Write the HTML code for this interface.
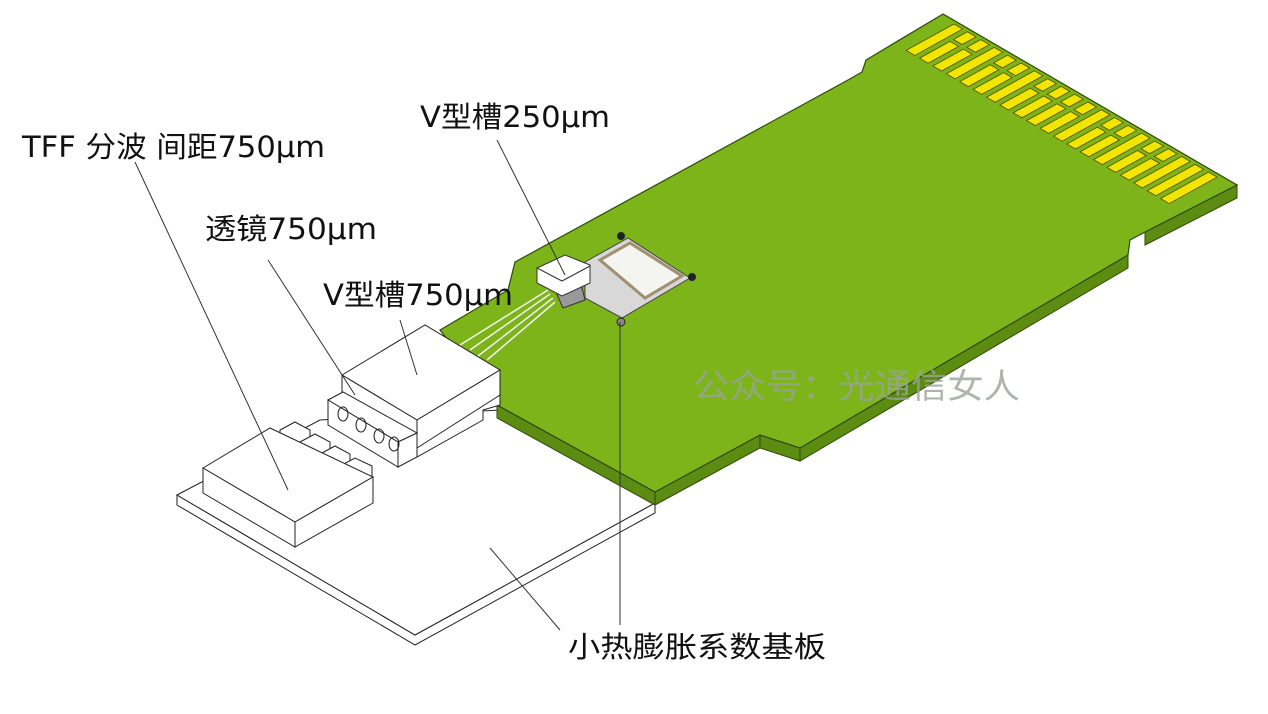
<!DOCTYPE html>
<html><head><meta charset="utf-8"><style>
html,body{margin:0;padding:0;background:#fff;width:1268px;height:714px;overflow:hidden}
svg{display:block}
text{font-family:"DejaVu Sans","Noto Sans CJK SC",sans-serif;fill:#111}
</style></head><body>
<svg width="1268" height="714" viewBox="0 0 1268 714" xmlns="http://www.w3.org/2000/svg">
<polygon points="177,495 415,635 655,503 655,513 415,645 177,505" fill="#fff" stroke="#222" stroke-width="1"/>
<polygon points="177,495 320,420 500,410 655,497 655,503 415,635" fill="#fff" stroke="#222" stroke-width="1"/>
<g fill="#5c8c12" stroke="#2d4a06" stroke-width="1">
<polygon points="497,405 655,492 655,505 497,418"/>
<polygon points="655,492 760,435 760,448 655,505"/>
<polygon points="800,448 1128,255 1128,268 800,461"/>
<polygon points="1145,232 1237,185 1237,198 1145,245"/>
<polygon points="760,435 800,448 800,461 760,448"/>
</g>
<polygon points="943,14 866,60 862,72 848,80 515,262 508,290 440,330 497,405 655,492 760,435 800,448 1128,255 1130,240 1145,232 1237,185" fill="#7cb41a" stroke="#2d4a06" stroke-width="1.2"/>
<g transform="matrix(0.864,0.503,-0.87,0.48,954,24)" fill="#f2e600" stroke="#5a5200" stroke-width="1">
<rect x="0" y="0" width="10" height="55"/>
<rect x="15.5" y="0" width="10" height="16"/><rect x="15.5" y="20" width="10" height="35"/>
<rect x="31" y="0" width="10" height="16"/><rect x="31" y="20" width="10" height="35"/>
<rect x="46.5" y="0" width="10" height="55"/>
<rect x="62" y="0" width="10" height="16"/><rect x="62" y="20" width="10" height="35"/>
<rect x="77.5" y="0" width="10" height="16"/><rect x="77.5" y="20" width="10" height="35"/>
<rect x="93" y="0" width="10" height="55"/>
<rect x="108.5" y="0" width="10" height="16"/><rect x="108.5" y="20" width="10" height="35"/>
<rect x="124" y="0" width="10" height="16"/><rect x="124" y="20" width="10" height="35"/>
<rect x="139.5" y="0" width="10" height="16"/><rect x="139.5" y="20" width="10" height="35"/>
<rect x="155" y="0" width="10" height="16"/><rect x="155" y="20" width="10" height="35"/>
<rect x="170.5" y="0" width="10" height="55"/>
<rect x="186" y="0" width="10" height="16"/><rect x="186" y="20" width="10" height="35"/>
<rect x="201.5" y="0" width="10" height="16"/><rect x="201.5" y="20" width="10" height="35"/>
<rect x="217" y="0" width="10" height="55"/>
<rect x="232.5" y="0" width="10" height="16"/><rect x="232.5" y="20" width="10" height="35"/>
<rect x="248" y="0" width="10" height="16"/><rect x="248" y="20" width="10" height="35"/>
<rect x="263.5" y="0" width="10" height="55"/>
<rect x="279" y="0" width="10" height="55"/>
<rect x="294.5" y="0" width="10" height="55"/>
</g>
<polygon points="585,262 628,238 690,278 622,318 585,298" fill="#d8d8d8" stroke="#444"/>
<polygon points="600,260 630,243 682,276 645,298" fill="#f4f4f0" stroke="#a09070" stroke-width="3"/>
<circle cx="621" cy="236" r="4" fill="#222"/><circle cx="692" cy="277" r="4" fill="#222"/><circle cx="621" cy="322" r="4" fill="#888" stroke="#222"/>
<polygon points="555,290 580,280 585,300 563,308" fill="#999" stroke="#333"/>
<polygon points="537,268 565,255 590,265 590,283 562,296 537,283" fill="#fff" stroke="#333"/>
<polyline points="537,268 562,281 590,266 M562,281 562,296" fill="none" stroke="#333"/>
<g stroke="#f4f4f4" stroke-width="1.5"><line x1="460" y1="345" x2="548" y2="290"/><line x1="470" y1="350" x2="550" y2="294"/><line x1="478" y1="356" x2="553" y2="298"/><line x1="487" y1="360" x2="555" y2="302"/></g>
<g fill="#fff" stroke="#222" stroke-width="1">
<polygon points="417,440 500,395 500,405 483,410 483,420 417,457"/>
<polygon points="342,375 425,325 500,370 417,420"/>
<polygon points="342,375 417,420 417,448 342,403"/>
<polygon points="417,420 500,370 500,395 417,448"/>
<polygon points="328,400 343,392 417,433 398,442"/>
<polygon points="328,400 398,442 398,467 328,425"/>
<polygon points="398,442 417,433 417,457 398,467"/>
<polygon points="280,430 295,422 310,430 310,440 295,448 280,440"/>
<polygon points="300,442 315,434 330,442 330,452 315,460 300,452"/>
<polygon points="320,454 335,446 350,454 350,464 335,472 320,464"/>
<polygon points="340,466 355,458 372,466 372,478 355,486 340,476"/>
<polygon points="203,468 270,428 373,477 295,522"/>
<polygon points="203,468 295,522 295,547 203,493"/>
<polygon points="295,522 373,477 373,503 295,547"/>
</g>
<g fill="none" stroke="#222"><ellipse cx="343" cy="414" rx="5" ry="7"/><ellipse cx="361" cy="425" rx="5" ry="7"/><ellipse cx="379" cy="436" rx="5" ry="7"/><ellipse cx="394" cy="444" rx="5" ry="7"/></g>
<g stroke="#333" stroke-width="1"><line x1="135" y1="162" x2="288" y2="490"/><line x1="268" y1="260" x2="355" y2="395"/><line x1="400" y1="320" x2="417" y2="375"/><line x1="497" y1="140" x2="565" y2="275"/><line x1="490" y1="548" x2="560" y2="630"/><line x1="620" y1="322" x2="620" y2="625"/></g>
<text x="22" y="157" font-size="29" textLength="303" lengthAdjust="spacingAndGlyphs">TFF 分波 间距750μm</text>
<text x="205" y="239" font-size="29" textLength="172" lengthAdjust="spacingAndGlyphs">透镜750μm</text>
<text x="323" y="305" font-size="29" textLength="190" lengthAdjust="spacingAndGlyphs">V型槽750μm</text>
<text x="420" y="127" font-size="29" textLength="190" lengthAdjust="spacingAndGlyphs">V型槽250μm</text>
<text x="568" y="657" font-size="29" textLength="258" lengthAdjust="spacingAndGlyphs">小热膨胀系数基板</text>
<text x="693" y="398" font-size="34" textLength="327" lengthAdjust="spacingAndGlyphs" style="fill:#9aa39a;opacity:0.8">公众号：光通信女人</text>
</svg>
</body></html>
